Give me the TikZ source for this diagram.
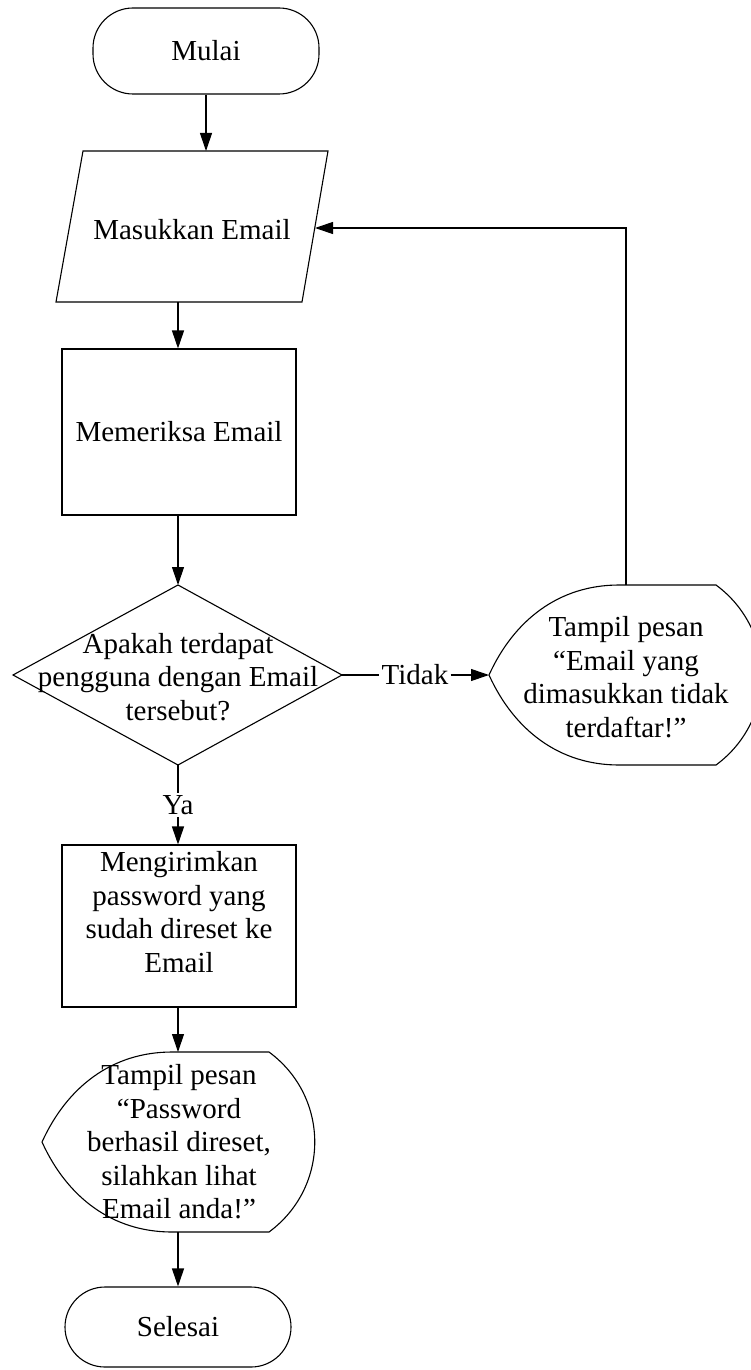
\documentclass[tikz,border=0pt]{standalone}
\usepackage{fontspec}
\setmainfont{Liberation Serif}
\usetikzlibrary{arrows.meta}
\begin{document}
\begin{tikzpicture}[x=1pt,y=-1pt,
  every node/.style={font=\fontsize{29}{33.5}\selectfont},
  shape line/.style={draw=black,line width=1.1pt},
  term/.style={shape line,rectangle,rounded corners=40pt,minimum width=226pt,inner sep=0pt},
  proc/.style={shape line,rectangle,minimum width=234pt,inner sep=0pt},
  txt/.style={align=center,inner sep=0pt},
  lbl/.style={inner sep=2pt},
  flow/.style={line width=1.1pt,-{Triangle[length=18pt,width=12pt]}},
  plain/.style={line width=1.1pt}]
\useasboundingbox[fill=white] (0,0) rectangle (751,1370);

% Start
\node[term,minimum height=86pt] (start) at (206,51) {Mulai};

% Input parallelogram
\draw[shape line] (83,151) -- (328,151) -- (302,302) -- (56,302) -- cycle;
\node[txt] (input) at (192,230) {Masukkan Email};
\coordinate (inTop) at (206,151);
\coordinate (inBot) at (178,302);
\coordinate (inRight) at (315,228);

% Check
\node[proc,minimum height=166pt] (check) at (179,432) {Memeriksa Email};

% Decision diamond
\draw[shape line] (178,585) -- (342,675) -- (178,765) -- (13,675) -- cycle;
\node[txt] (decide) at (178,677) {Apakah terdapat\\pengguna dengan Email\\tersebut?};
\coordinate (decTop) at (178,585);
\coordinate (decRight) at (342,675);
\coordinate (decBot) at (178,765);

% Display 1 (error)
\draw[shape line] (489,675) .. controls (514,620) and (559,585) .. (619,585)
  -- (716,585) .. controls (777,630) and (777,720) .. (716,765)
  -- (619,765) .. controls (559,765) and (514,730) .. cycle;
\node[txt] (err) at (626,677) {Tampil pesan\\“Email yang\\dimasukkan tidak\\terdaftar!”};
\coordinate (errLeft) at (489,675);
\coordinate (errTop) at (626,585);
\coordinate (loopCorner) at (626,228);

% Labels
\node[lbl] (tidak) at (415,675) {Tidak};
\node[lbl] (ya) at (178,805) {Ya};

% Send
\node[proc,minimum height=162pt] (send) at (179,926) {};
\node[txt] (sendtxt) at (179,912) {Mengirimkan\\password yang\\sudah direset ke\\Email};

% Display 2 (success)
\draw[shape line] (42,1142) .. controls (67,1087) and (112,1052) .. (172,1052)
  -- (269,1052) .. controls (330,1097) and (330,1187) .. (269,1232)
  -- (172,1232) .. controls (112,1232) and (67,1197) .. cycle;
\node[txt] (ok) at (179,1142) {Tampil pesan\\“Password\\berhasil direset,\\silahkan lihat\\Email anda!”};
\coordinate (okTop) at (178,1052);
\coordinate (okBot) at (178,1232);

% End
\node[term,minimum height=80pt] (end) at (178,1327) {Selesai};

% Connectors
\draw[flow] (start.south) -- (inTop);
\draw[flow] (inBot) -- (check.north -| inBot);
\draw[flow] (check.south -| decTop) -- (decTop);
\draw[plain] (decRight) -- (tidak.west);
\draw[flow] (tidak.east) -- (errLeft);
\draw[flow] (errTop) -- (loopCorner) -- (inRight);
\draw[plain] (decBot) -- (ya.north);
\draw[flow] (ya.south) -- (send.north -| ya.south);
\draw[flow] (send.south -| okTop) -- (okTop);
\draw[flow] (okBot) -- (end.north -| okBot);
\end{tikzpicture}
\end{document}
